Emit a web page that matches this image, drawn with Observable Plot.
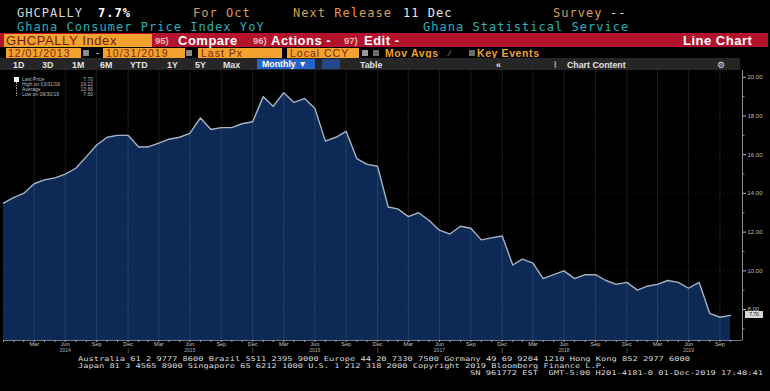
<!DOCTYPE html>
<html><head><meta charset="utf-8">
<script src="https://cdn.jsdelivr.net/npm/d3@7"></script>
<script src="https://cdn.jsdelivr.net/npm/@observablehq/plot@0.6"></script>
<style>
html,body{margin:0;padding:0;background:#000;}
#root{position:relative;width:770px;height:391px;background:#000;overflow:hidden;font-family:"Liberation Sans",Arial,sans-serif;}
.a{position:absolute;white-space:pre;}
.mono{font-family:"DejaVu Sans Mono","Liberation Mono",monospace;}
.h1{top:6px;font-size:12px;line-height:14px;letter-spacing:1.03px;}
.h2{top:20px;font-size:12px;line-height:14px;letter-spacing:1.03px;color:#2fb0b6;}
.org{color:#d99d58;}
.wht{color:#e6e6e6;}
.btn{top:34px;font-size:13px;line-height:13px;letter-spacing:0.5px;color:#fff;font-weight:bold;}
.num{top:36px;font-size:9.5px;line-height:10px;color:#f2b4b4;font-weight:bold;}
.obox{top:48px;height:10px;background:#f4a22e;color:#7a2810;font-size:10.5px;line-height:10.5px;letter-spacing:1px;overflow:hidden;}
.gicon{top:50px;width:6px;height:6px;background:#8a8a8a;}
.r5{top:60px;font-size:8.8px;line-height:10px;color:#e2e2e2;font-weight:bold;}
.leg{font-size:5px;line-height:5px;color:#bdbdbd;}
.foot{font-size:6.5px;line-height:7px;color:#d8d8d8;transform-origin:0 0;}
</style></head>
<body><div id="root"></div>
<script>
// ---- data ----
const startYear = 2013, startMonth = 11; // first point: Dec 2013 (month-end)
const cpi = [13.5,
  13.8,14.0,14.5,14.7,14.8,15.0,15.3,15.9,16.5,16.9,17.0,17.0,
  16.4,16.4,16.6,16.8,16.9,17.1,17.9,17.3,17.4,17.4,17.6,17.7,
  19.0,18.5,19.2,18.7,18.9,18.4,16.7,16.9,17.2,15.8,15.5,15.4,
  13.3,13.2,12.8,13.0,12.6,12.1,11.9,12.3,12.2,11.6,11.7,11.8,
  10.3,10.6,10.4,9.6,9.8,10.0,9.6,9.8,9.8,9.5,9.3,9.4,
  9.0,9.2,9.3,9.5,9.4,9.1,9.4,7.8,7.6,7.7];
const quarterMonths = [2,5,8,11];
const monthLabels = ["Mar","Jun","Sep","Dec"];
const tickYears = [2014,2015,2016,2017,2018,2019];
const yTicks = [8,10,12,14,16,18,20];
const yMinor = [7,9,11,13,15,17,19];
const legendLabels = ["Last Price","High on 03/31/16","Average","Low on 09/30/19"];
const legendValues = ["7.70","19.22","13.66","7.60"];
const lastLabel = "7.70";
const footerLines = [
  "Australia 61 2 9777 8600 Brazil 5511 2395 9000 Europe 44 20 7330 7500 Germany 49 69 9204 1210 Hong Kong 852 2977 6000",
  "Japan 81 3 4565 8900 Singapore 65 6212 1000 U.S. 1 212 318 2000 Copyright 2019 Bloomberg Finance L.P.",
  "SN 961772 EST  GMT-5:00 H201-4181-0 01-Dec-2019 17:40:41"
];

const root = document.getElementById("root");
function el(cls, style, text){
  const d = document.createElement("div");
  d.className = "a " + (cls||"");
  Object.assign(d.style, style||{});
  if (text!=null) d.textContent = text;
  root.appendChild(d); return d;
}
// header line 1/2
el("mono h1 wht",{left:"17px",color:"#d6d6d6"},"GHCPALLY");
el("mono h1",{left:"98px",color:"#fff",fontWeight:"bold"},"7.7%");
el("mono h1 org",{left:"193px"},"For Oct");
el("mono h1 org",{left:"293px"},"Next Release");
el("mono h1 wht",{left:"403px"},"11 Dec");
el("mono h1 org",{left:"553px"},"Survey");
el("mono h1 wht",{left:"610px"},"--");
el("mono h2",{left:"17px"},"Ghana Consumer Price Index YoY");
el("mono h2",{left:"423px"},"Ghana Statistical Service");
// red bar
el("",{left:"0px",top:"33px",width:"768px",height:"14px",background:"#b3122d"});
el("",{left:"4px",top:"34px",width:"148px",height:"13px",background:"#f4a22e",color:"#6e1e0a",fontSize:"13px",lineHeight:"13px",letterSpacing:"0.6px",paddingLeft:"2px",boxSizing:"border-box"},"GHCPALLY Index");
el("num",{left:"155px"},"95)");
el("btn",{left:"178px"},"Compare");
el("num",{left:"253px"},"96)");
el("btn",{left:"271px"},"Actions -");
el("num",{left:"344px"},"97)");
el("btn",{left:"364px"},"Edit -");
el("btn",{left:"683px"},"Line Chart");
// row 4
el("obox",{left:"6px",width:"75px",paddingLeft:"2px",boxSizing:"border-box"},"12/01/2013");
el("gicon",{left:"83px"});
el("",{left:"96px",top:"48px",color:"#ddd",fontSize:"10px",lineHeight:"10px"},"-");
el("obox",{left:"103px",width:"82px",paddingLeft:"3px",boxSizing:"border-box"},"10/31/2019");
el("gicon",{left:"186px"});
el("obox",{left:"198px",width:"84px",paddingLeft:"3px",boxSizing:"border-box"},"Last Px");
el("obox",{left:"287px",width:"72px",paddingLeft:"3px",boxSizing:"border-box"},"Local CCY");
el("gicon",{left:"362px",background:"#9a9a9a"});
el("gicon",{left:"373px",background:"#6a6a6a"});
el("",{left:"385px",top:"48px",color:"#f0a030",fontSize:"10.5px",lineHeight:"10px",letterSpacing:"0.6px",fontWeight:"bold"},"Mov Avgs");
el("",{left:"449px",top:"49px",color:"#bbb",fontSize:"8px",lineHeight:"9px"},"\u2215");
el("gicon",{left:"469px",background:"#6a6a6a"});
el("",{left:"477px",top:"48px",color:"#f0a030",fontSize:"10.5px",lineHeight:"10px",letterSpacing:"0.6px",fontWeight:"bold"},"Key Events");
// row 5
el("",{left:"0px",top:"58px",width:"740px",height:"12px",background:"#262626"});
[["1D",13],["3D",42],["1M",72],["6M",100],["YTD",130],["1Y",167],["5Y",195],["Max",223],["Table",360],["\u00ab",496],["Chart Content",567]]
  .forEach(([t,x])=>el("r5",{left:x+"px"},t));
el("",{left:"257px",top:"59px",width:"58px",height:"10px",background:"#2563c9",color:"#fff",fontSize:"8.8px",lineHeight:"10px",fontWeight:"bold",paddingLeft:"5px",boxSizing:"border-box"},"Monthly \u25BC");
el("",{left:"322px",top:"59px",width:"18px",height:"10px",background:"#24478a"});
el("",{left:"553px",top:"60px",color:"#ddd",fontSize:"8.8px",lineHeight:"10px"},"\u2307");
el("",{left:"717px",top:"60px",color:"#ddd",fontSize:"8.8px",lineHeight:"10px"},"\u2699");

// ---- chart ----
const data = cpi.map((v,i)=>({date:new Date(Date.UTC(startYear, startMonth+i+1, 0)), value:v}));
const lastDate = data[data.length-1].date;
const qTicks = [];
tickYears.forEach(y=>quarterMonths.forEach((m,k)=>{
  const d = new Date(Date.UTC(y, m+1, 0));
  if (d <= lastDate) qTicks.push({date:d, m:monthLabels[k], sub: k===1 ? String(y) : (k===3 ? "|" : "")});
}));
const yMin = 6.4, yMax = 20.35;
const xEnd = new Date(Date.UTC(2019,11,5));

const chart = Plot.plot({
  width:770, height:290, marginTop:0, marginBottom:20, marginLeft:3, marginRight:28,
  style:{background:"transparent", color:"#c8c8c8", fontFamily:"Liberation Sans, Arial, sans-serif"},
  x:{type:"utc", domain:[data[0].date, xEnd], axis:null},
  y:{domain:[yMin,yMax], axis:null},
  marks:[
    Plot.areaY(data,{x:"date", y1:yMin, y2:"value", fill:"#0c2a55"}),
    Plot.ruleX(qTicks,{x:"date", stroke:"#ffffff", strokeOpacity:0.14, strokeWidth:0.8}),
    Plot.ruleY(yTicks,{stroke:"#ffffff", strokeOpacity:0.10, strokeDasharray:"1,3"}),
    Plot.lineY(data,{x:"date", y:"value", stroke:"#a7b1bf", strokeWidth:1.4}),
    Plot.ruleY([yMin],{stroke:"#8a97a8", strokeWidth:0.8}),
    Plot.axisX(data.map(d=>d.date),{anchor:"bottom", tickSize:2, tickFormat:()=>"", stroke:"#9aa6b6", label:null}),
    Plot.ruleX([xEnd],{stroke:"#b0b0b0", strokeWidth:0.8}),
    Plot.axisY(yMinor,{anchor:"right", tickSize:1.5, tickFormat:()=>"", stroke:"#888", label:null}),
    Plot.axisY(yTicks,{anchor:"right", tickSize:3, tickPadding:2, tickFormat:d=>d.toFixed(2), fontSize:6, fill:"#bdbdbd", stroke:"#bdbdbd", label:null}),
    Plot.text(qTicks,{x:"date", frameAnchor:"bottom", dy:4, lineAnchor:"middle", text:"m", fontSize:5.5, fill:"#c4c4c4"}),
    Plot.text(qTicks,{x:"date", frameAnchor:"bottom", dy:10, lineAnchor:"middle", text:"sub", fontSize:5, fill:"#b4b4b4"})
  ]
});
const wrap = el("",{left:"0px",top:"70px"});
wrap.appendChild(chart);

// last price tag
const yLast = 70 + chart.scale("y").apply(cpi[cpi.length-1]);
el("",{left:"745px",top:(yLast-3.5)+"px",width:"18px",height:"7px",background:"#d6d6d6",color:"#111",fontSize:"5px",lineHeight:"7px",textAlign:"center"},lastLabel);

// legend
const legTops = [76.5,81.5,86.5,91.5];
legendLabels.forEach((t,i)=>{
  el("leg",{left:"22px",top:legTops[i]+"px"},t);
  el("leg",{left:"70px",top:legTops[i]+"px",width:"23px",textAlign:"right"},legendValues[i]);
  if (i===0) el("",{left:"14px",top:"76.5px",width:"5px",height:"5px",background:"#f2f2f2"});
  else el("",{left:"16px",top:(legTops[i])+"px",width:"0px",height:"4px",borderLeft:"1px dotted #999"});
});

// footer (stretched horizontally to the reference widths)
const f1 = el("mono foot",{left:"78px",top:"356px"},footerLines[0]);
const f2 = el("mono foot",{left:"78px",top:"363px"},footerLines[1]);
const f3 = el("mono foot",{left:"470px",top:"370px"},footerLines[2]);
const sx = 612 / f1.getBoundingClientRect().width;
[f1,f2,f3].forEach(f=>f.style.transform = `scaleX(${sx})`);
</script></body></html>
